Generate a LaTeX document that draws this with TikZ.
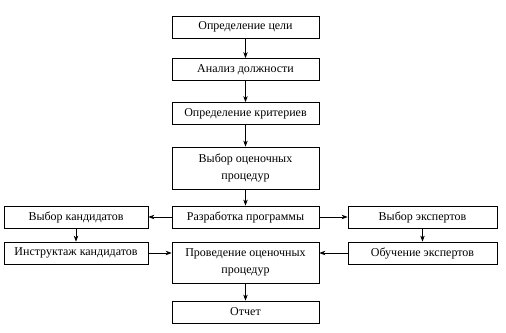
\documentclass[tikz,border=0pt]{standalone}
\usepackage{fontspec}
\setmainfont{Liberation Serif}
\usetikzlibrary{arrows.meta}

\begin{document}
\begin{tikzpicture}[x=1pt,y=-1pt,
    box/.style={draw,line width=.8pt,minimum height=22pt,inner sep=2pt,align=center,
      font=\fontsize{12}{17}\selectfont},
    midbox/.style={box,minimum width=147pt},
    sidebox/.style={box,minimum width=145pt},
    link/.style={-{Stealth[length=6pt,width=4.5pt]},line width=.7pt}]
    \useasboundingbox (0,0) rectangle (506,332);
    % central column
    \node[midbox] (goal) at (245.5,27) {Определение цели};
    \node[midbox] (analysis) at (245.5,69.5) {Анализ должности};
    \node[midbox] (criteria) at (245.5,113.5) {Определение критериев};
    \node[midbox,minimum height=42pt] (choice) at (245.5,168) {Выбор оценочных\\процедур};
    \node[midbox] (program) at (245.5,217) {Разработка программы};
    \node[midbox,minimum height=41pt] (conduct) at (245.5,262.5) {Проведение оценочных\\процедур};
    \node[midbox] (report) at (245.5,312) {Отчет};
    % side columns
    \node[sidebox,minimum width=144pt] (cand) at (76,217) {Выбор кандидатов};
    \node[sidebox,minimum width=144pt] (brief) at (76,253) {Инструктаж кандидатов};
    \node[sidebox,minimum width=149pt] (experts) at (422.5,217) {Выбор экспертов};
    \node[sidebox,minimum width=149pt] (training) at (422.5,253) {Обучение экспертов};
    % connectors
    \draw[link] (goal) -- (analysis);
    \draw[link] (analysis) -- (criteria);
    \draw[link] (criteria) -- (choice);
    \draw[link] (choice) -- (program);
    \draw[link] (program) -- (cand);
    \draw[link] (program) -- (experts);
    \draw[link] (cand) -- (brief);
    \draw[link] (experts) -- (training);
    \draw[link] (brief.east) -- (brief.east -| conduct.west);
    \draw[link] (training.west) -- (training.west -| conduct.east);
    \draw[link] (conduct) -- (report);
\end{tikzpicture}
\end{document}
